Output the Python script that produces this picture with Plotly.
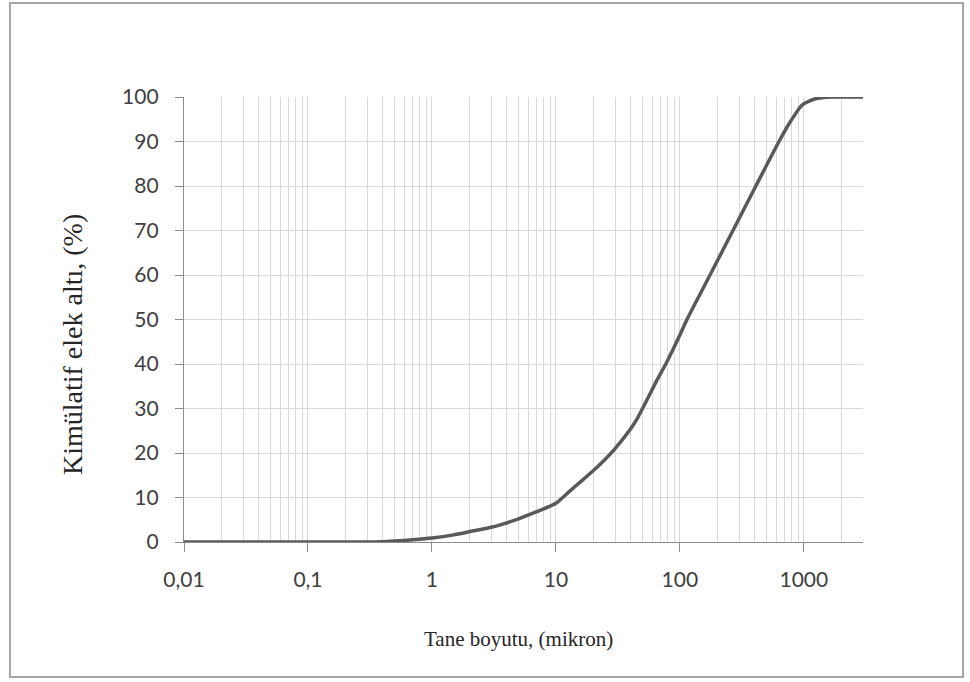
import numpy as np
import plotly.graph_objects as go

# Data
size_micron = [0.01, 0.1, 0.3, 0.4, 0.5, 0.7, 1.0, 1.5, 2.0, 3.0, 3.5, 5.0, 7.0, 10, 13, 15, 20,
               25, 30, 40, 45, 66, 77, 100, 114, 175, 268, 410, 630, 760, 970, 1240, 1700, 2000, 3000]
cum_passing = [0, 0, 0, 0.05, 0.2, 0.5, 0.9, 1.6, 2.3, 3.3, 3.8, 5.2, 6.8, 8.7, 11.5, 13, 16,
               18.6, 21, 25.4, 27.6, 36.6, 40, 46.5, 50, 60, 70, 80, 90, 94, 98.2, 99.6, 100, 100, 100]

x_tickvals = [0.01, 0.1, 1, 10, 100, 1000]
x_ticktext = ["0,01", "0,1", "1", "10", "100", "1000"]
y_tickvals = [0, 10, 20, 30, 40, 50, 60, 70, 80, 90, 100]

x_title = "Tane boyutu, (mikron)"
y_title = "Kimülatif elek altı, (%)"

minor_vals = [m * d for d in [0.01, 0.1, 1, 10, 100, 1000] for m in range(2, 10) if m * d <= 3000]

fig = go.Figure()
fig.add_trace(go.Scatter(x=size_micron, y=cum_passing, mode="lines",
                         line=dict(color="#595959", width=3.5, shape="spline", smoothing=0.6),
                         showlegend=False))

tickfont = dict(family="Lato, Open Sans, sans-serif", size=21, color="#404040")
axis_line = "#8c8c8c"
grid = "#d9d9d9"

fig.update_xaxes(type="log", range=[np.log10(0.01), np.log10(3000)],
                 tickvals=x_tickvals, ticktext=x_ticktext, tickfont=tickfont,
                 showgrid=True, gridcolor=grid, gridwidth=1.3,
                 minor=dict(tickvals=minor_vals, showgrid=True, gridcolor=grid, gridwidth=1.3,
                            ticks=""),
                 showline=True, linecolor=axis_line, linewidth=1.3,
                 ticks="outside", ticklen=9, tickcolor=axis_line, tickwidth=1.3,
                 ticklabelstandoff=10,
                 zeroline=False, fixedrange=True)
fig.update_yaxes(range=[0, 100], tickvals=y_tickvals, tickfont=tickfont,
                 showgrid=True, gridcolor=grid, gridwidth=1.3,
                 showline=True, linecolor=axis_line, linewidth=1.3,
                 ticks="outside", ticklen=8, tickcolor=axis_line, tickwidth=1.3,
                 ticklabelstandoff=12,
                 zeroline=False, fixedrange=True)

L, R, T, B = 184, 863, 97, 542
W, H = 970, 682
pw, ph = R - L, B - T

def px_x(p):
    return (p - L) / pw

def px_y(p):
    return (B - p) / ph

fig.add_shape(type="rect", xref="paper", yref="paper",
              x0=px_x(10), x1=px_x(963), y0=px_y(677), y1=px_y(3),
              line=dict(color="#a6a6a6", width=2), fillcolor="rgba(0,0,0,0)", layer="below")

serif = "Liberation Serif, Times New Roman, serif"
fig.add_annotation(text=x_title, xref="paper", yref="paper", x=px_x(518), y=px_y(639),
                   showarrow=False, font=dict(family=serif, size=21, color="#262626"),
                   xanchor="center", yanchor="middle")
fig.add_annotation(text=y_title, xref="paper", yref="paper", x=px_x(72), y=px_y(345),
                   showarrow=False, font=dict(family=serif, size=28, color="#262626"),
                   textangle=-90, xanchor="center", yanchor="middle")

fig.update_layout(width=W, height=H, margin=dict(l=L, r=W - R, t=T, b=H - B),
                  paper_bgcolor="white", plot_bgcolor="white")

fig.write_html("out.html")
